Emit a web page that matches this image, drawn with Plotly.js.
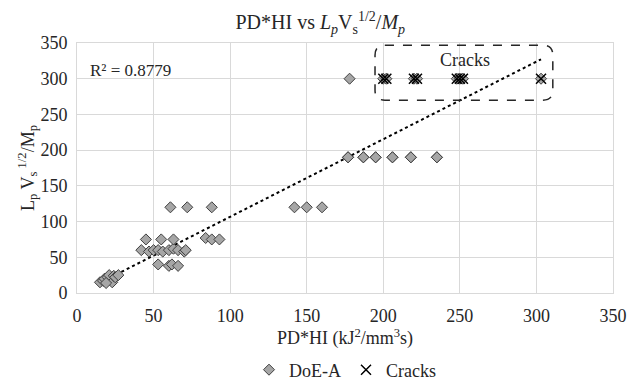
<!DOCTYPE html>
<html><head><meta charset="utf-8">
<script src="https://cdn.plot.ly/plotly-3.0.1.min.js"></script>
<style>
html,body{margin:0;padding:0;background:#fff}#chart{width:628px;height:385px}
#chart svg text{font-family:'Liberation Serif','Times New Roman','DejaVu Serif',serif !important;}
</style>
</head><body><div id="chart"></div>
<script>
// DoE-A series
const doeX = [15,17,18,20,21,23,24,25,27,19,
  53,60,62,66,
  42,47,50,53,56,60,63,66,70,71,
  45,55,63,84,88,93,
  61,72,88,142,150,160,
  177,187,195,206,218,235,
  177,187,195,206,218,235,
  178,200,202,220,222,248,250,252,303];
const doeY = [15,17,20,22,25,15,24,22,25,14,
  40,38,40,38,
  60,58,60,60,58,60,62,60,58,60,
  75,75,75,77,75,75,
  120,120,120,120,120,120,
  190,190,190,190,190,190,
  190,190,190,190,190,190,
  300,300,300,300,300,300,300,300,300];
// Cracks series
const crackX = [200,202,220,222,248,250,252,303];
const crackY = [300,300,300,300,300,300,300,300];
const r2Label = 'R² = 0.8779';

// linear least-squares trendline from DoE-A
const n = doeX.length;
const mx = doeX.reduce((a,b)=>a+b,0)/n, my = doeY.reduce((a,b)=>a+b,0)/n;
let sxy=0, sxx=0;
for (let i=0;i<n;i++){ sxy+=(doeX[i]-mx)*(doeY[i]-my); sxx+=(doeX[i]-mx)**2; }
const slope = sxy/sxx, icpt = my - slope*mx;
const xmin = Math.min(...doeX), xmax = Math.max(...doeX);
const trendX = [xmin, xmax], trendY = trendX.map(x=>icpt+slope*x);

const FAM = 'Liberation Serif';
const F = (s)=>({family:FAM, size:s, color:'#262626'});
const traces = [
  {x:trendX, y:trendY, mode:'lines', line:{color:'#000', dash:'dot', width:2}, showlegend:false, hoverinfo:'skip'},
  {x:doeX, y:doeY, mode:'markers', name:'DoE-A', type:'scatter',
   marker:{symbol:'diamond', size:8.5, color:'#a6a6a6', line:{color:'#404040', width:1}}},
  {x:crackX, y:crackY, mode:'markers', name:'Cracks', type:'scatter',
   marker:{symbol:'x-thin-open', size:10, color:'#000', line:{color:'#000', width:1.5}}}
];
// rounded dashed box
const bx0=194.6, bx1=310.7, by0=270, by1=347, rx=6.5, ry=14;
const boxPath = `M ${bx0+rx},${by1} L ${bx1-rx},${by1} Q ${bx1},${by1} ${bx1},${by1-ry} L ${bx1},${by0+ry} Q ${bx1},${by0} ${bx1-rx},${by0} L ${bx0+rx},${by0} Q ${bx0},${by0} ${bx0},${by0+ry} L ${bx0},${by1-ry} Q ${bx0},${by1} ${bx0+rx},${by1} Z`;

const layout = {
  width:628, height:385,
  margin:{l:77, r:15, t:43, b:92},
  paper_bgcolor:'#fff', plot_bgcolor:'#fff',
  font:F(18),
  title:{text:'PD*HI vs <i>L<sub>p</sub></i>V<sub>s</sub><sup>1/2</sup>/<i>M<sub>p</sub></i>', x:0.51, xanchor:'center', y:0.942, yanchor:'middle', font:F(20)},
  xaxis:{range:[0,350], dtick:50, tick0:0, showgrid:true, gridcolor:'#d9d9d9', gridwidth:1,
    showline:true, linecolor:'#d9d9d9', mirror:true, zeroline:false, automargin:false,
    ticks:'outside', ticklen:6, tickcolor:'rgba(0,0,0,0)', tickfont:F(18),
    title:{text:'PD*HI (kJ<sup>2</sup>/mm<sup>3</sup>s)', standoff:4, font:F(18)}},
  yaxis:{range:[0,350], dtick:50, tick0:0, showgrid:true, gridcolor:'#d9d9d9', gridwidth:1,
    showline:true, linecolor:'#d9d9d9', mirror:true, zeroline:false, automargin:false,
    ticks:'outside', ticklen:5, tickcolor:'rgba(0,0,0,0)', tickfont:F(18),
    title:{text:'L<sub>p</sub> V<sub>s</sub><sup> 1/2</sup>/M<sub>p</sub>', standoff:0, font:F(18)}},
  legend:{orientation:'h', x:0.5, xanchor:'center', xref:'paper', yref:'container', y:0.039, yanchor:'middle', font:F(18), itemwidth:30, tracegroupgap:0},
  shapes:[{type:'path', path:boxPath, xref:'x', yref:'y', line:{color:'#262626', width:1.5, dash:'dash'}, fillcolor:'rgba(0,0,0,0)'}],
  annotations:[
    {text:'Cracks', x:235.5, y:326, xref:'x', yref:'y', xanchor:'left', showarrow:false, font:F(18)},
    {text:r2Label, x:7, y:312, xref:'x', yref:'y', xanchor:'left', showarrow:false, font:F(17)}
  ]
};
Plotly.newPlot('chart', traces, layout, {displayModeBar:false, staticPlot:true});
</script></body></html>
